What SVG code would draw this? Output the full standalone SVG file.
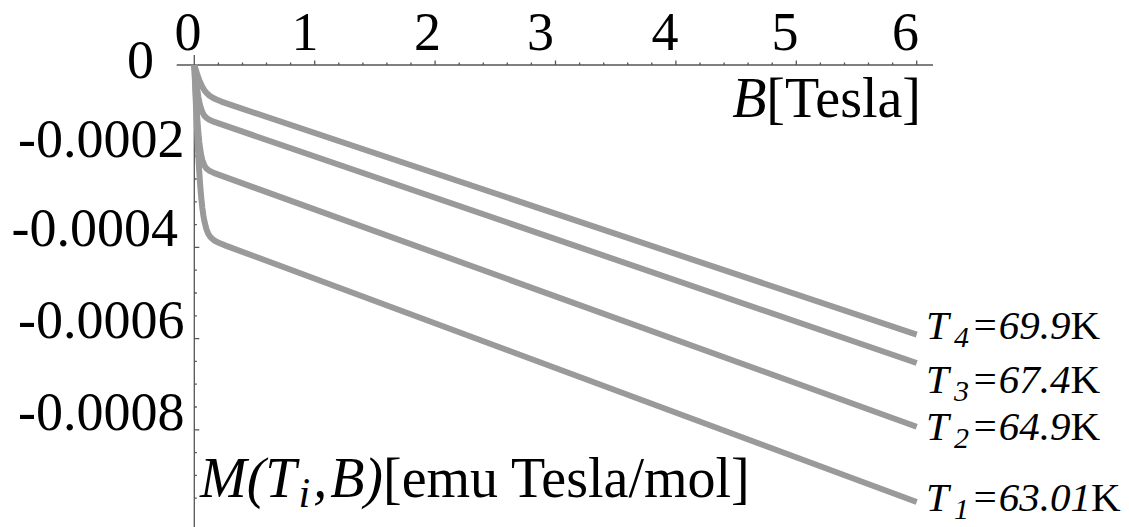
<svg xmlns="http://www.w3.org/2000/svg" width="1129" height="527" viewBox="0 0 1129 527">
<style>
.ax{stroke:#555;stroke-width:1.3;fill:none}
.crv{stroke:#9a9a9a;stroke-width:6;fill:none;stroke-linejoin:round}
text{font-family:"Liberation Serif","Times New Roman",serif;fill:#000}
.tk{font-size:54px}
.axl{font-size:56px}
.lab{font-size:41px}
.it{font-style:italic}
.sub{font-size:30px;font-style:italic}
</style>
<rect width="1129" height="527" fill="#fff"/>
<g id="axes">
<path class="ax" d="M176.7 65H933M194.3 55V527"/>
<path class="ax" d="M218.4 65v-2.5M242.5 65v-2.5M266.5 65v-2.5M290.6 65v-2.5M338.8 65v-2.5M362.9 65v-2.5M386.9 65v-2.5M411 65v-2.5M459.2 65v-2.5M483.3 65v-2.5M507.3 65v-2.5M531.4 65v-2.5M579.6 65v-2.5M603.7 65v-2.5M627.7 65v-2.5M651.8 65v-2.5M700 65v-2.5M724.1 65v-2.5M748.1 65v-2.5M772.2 65v-2.5M820.4 65v-2.5M844.5 65v-2.5M868.5 65v-2.5M892.6 65v-2.5"/>
<path class="ax" d="M314.7 65v-4.5M435.1 65v-4.5M555.5 65v-4.5M675.9 65v-4.5M796.3 65v-4.5M916.7 65v-4.5"/>
<path class="ax" d="M194.3 87.8h2.5M194.3 110.6h2.5M194.3 133.4h2.5M194.3 179h2.5M194.3 201.8h2.5M194.3 224.6h2.5M194.3 270.2h2.5M194.3 293h2.5M194.3 315.8h2.5M194.3 361.4h2.5M194.3 384.2h2.5M194.3 407h2.5M194.3 452.6h2.5M194.3 475.4h2.5M194.3 498.2h2.5"/>
<path class="ax" d="M194.3 156.2h5M194.3 247.4h5M194.3 338.6h5M194.3 429.8h5"/>
</g>
<g id="tick-labels" class="tk">
<text x="188" y="50" text-anchor="middle">0</text>
<text x="305" y="50" text-anchor="middle">1</text>
<text x="427.5" y="50" text-anchor="middle">2</text>
<text x="540.5" y="50" text-anchor="middle">3</text>
<text x="665" y="50" text-anchor="middle">4</text>
<text x="785" y="50" text-anchor="middle">5</text>
<text x="905.5" y="50" text-anchor="middle">6</text>
<text x="154" y="78" text-anchor="end">0</text>
<text x="184.5" y="157" text-anchor="end">-0.0002</text>
<text x="178" y="246" text-anchor="end">-0.0004</text>
<text x="184.5" y="338" text-anchor="end">-0.0006</text>
<text x="184.5" y="430" text-anchor="end">-0.0008</text>
</g>
<g id="axis-labels" class="axl">
<text x="921" y="117" text-anchor="end"><tspan class="it">B</tspan>[Tesla]</text>
<text x="200" y="497"><tspan class="it">M(T</tspan><tspan class="it" font-size="42" dy="10" dx="2">i</tspan><tspan class="it" dy="-10" dx="3">,</tspan><tspan class="it" dx="3">B)</tspan>[emu Tesla/mol]</text>
</g>
<g id="curves">
<polyline id="curve-T4" class="crv" points="194.3,65 195.3,68.24 196.3,71.42 197.3,74.47 198.3,77.36 199.3,80.04 200.3,82.51 202.3,86.7 204.3,90.04 206.3,92.61 209.3,95.47 212.3,97.51 216.3,99.54 221.3,101.56 229.3,104.39 916.7,334.7"/>
<polyline id="curve-T3" class="crv" points="194.3,65 195.3,73.97 196.3,82.45 197.3,90.05 198.3,96.53 199.3,101.88 200.3,106.15 202.3,112.07 204.3,115.61 206.3,117.79 209.3,119.8 214.3,121.96 916.7,363"/>
<polyline id="curve-T2" class="crv" points="194.3,65 195.3,84.55 196.3,102.76 197.3,118.64 198.3,131.73 199.3,142.07 200.3,149.85 201.3,155.73 202.3,159.98 204.3,165.38 206.3,168.34 209.3,170.79 214.3,173.13 916.7,426.8"/>
<polyline id="curve-T1" class="crv" points="194.3,65 195.3,90.04 196.3,114.06 197.3,136.18 198.3,155.81 199.3,172.67 200.3,186.73 201.3,198.32 202.3,207.6 203.3,214.96 204.3,220.79 206.3,228.82 208.3,233.85 210.3,236.94 214.3,240.47 219.3,243.06 226.3,245.87 916.7,502"/>
</g>
<g id="curve-labels" class="lab">
<text id="label-T4" x="926" y="339"><tspan class="it">T</tspan><tspan class="sub" x="954" dy="8">4</tspan><tspan class="it" x="971" dy="-8">=69.9</tspan>K</text>
<text id="label-T3" x="926" y="393"><tspan class="it">T</tspan><tspan class="sub" x="954" dy="8">3</tspan><tspan class="it" x="971" dy="-8">=67.4</tspan>K</text>
<text id="label-T2" x="926" y="440"><tspan class="it">T</tspan><tspan class="sub" x="954" dy="8">2</tspan><tspan class="it" x="971" dy="-8">=64.9</tspan>K</text>
<text id="label-T1" x="926" y="511"><tspan class="it">T</tspan><tspan class="sub" x="954" dy="8">1</tspan><tspan class="it" x="971" dy="-8">=63.01</tspan>K</text>
</g>
</svg>
